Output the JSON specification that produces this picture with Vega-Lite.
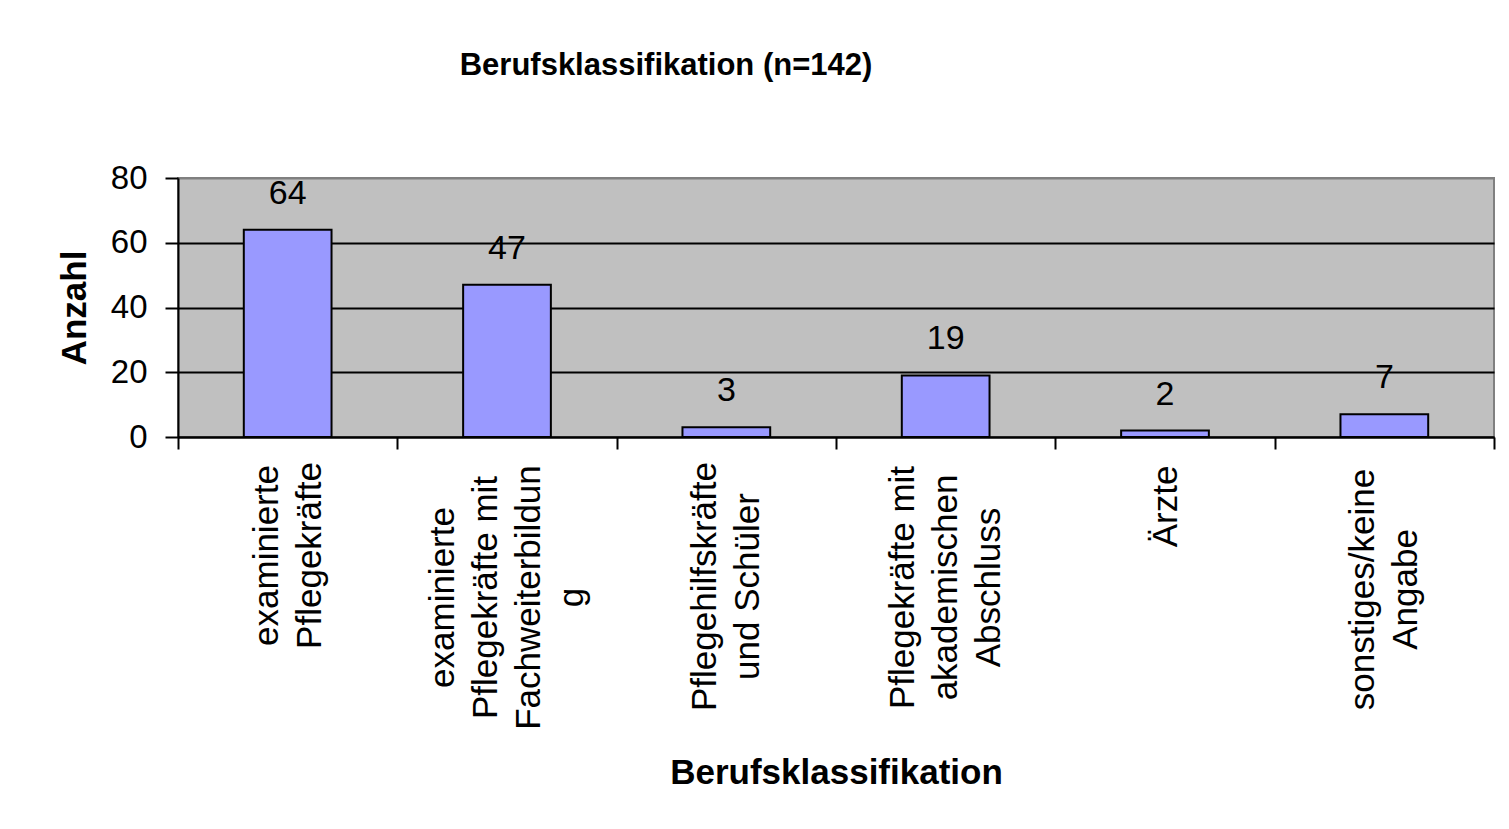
{
  "$schema": "https://vega.github.io/schema/vega-lite/v6.json",
  "width": 1316,
  "height": 259,
  "autosize": {"type": "none"},
  "padding": {"left": 178, "top": 178, "right": 15, "bottom": 392},
  "background": "white",
  "title": {
    "text": "Berufsklassifikation (n=142)",
    "fontSize": 31,
    "fontWeight": "bold",
    "font": "Liberation Sans",
    "color": "black",
    "anchor": "middle",
    "frame": "group",
    "dx": -170,
    "offset": 80
  },
  "data": {
    "values": [
      {"Berufsklassifikation": "examinierte\nPflegekräfte", "Anzahl": 64},
      {"Berufsklassifikation": "examinierte\nPflegekräfte mit\nFachweiterbildun\ng", "Anzahl": 47},
      {"Berufsklassifikation": "Pflegehilfskräfte\nund Schüler", "Anzahl": 3},
      {"Berufsklassifikation": "Pflegekräfte mit\nakademischen\nAbschluss", "Anzahl": 19},
      {"Berufsklassifikation": "Ärzte", "Anzahl": 2},
      {"Berufsklassifikation": "sonstiges/keine\nAngabe", "Anzahl": 7}
    ]
  },
  "encoding": {
    "x": {
      "field": "Berufsklassifikation",
      "type": "nominal",
      "sort": null,
      "scale": {"paddingInner": 0, "paddingOuter": 0},
      "axis": {
        "title": "Berufsklassifikation",
        "labelAngle": -90,
        "labelAlign": "center",
        "labelBaseline": "middle",
        "labelExpr": "split(datum.label, '\\n')",
        "labelLineHeight": 43,
        "labelFontSize": 35,
        "labelFont": "Liberation Sans",
        "labelColor": "black",
        "labelLimit": 2000,
        "labelOverlap": false,
        "labelFlush": false,
        "labelPadding": 57,
        "encoding": {
          "labels": {
            "dx": {"value": {"expr": "datum.index < 0.1 ? -49 : datum.index < 0.3 ? -91 : datum.index < 0.5 ? -80 : datum.index < 0.7 ? -81 : datum.index < 0.9 ? 0 : -83"}},
            "dy": {"value": {"expr": "datum.index < 0.1 ? -21.5 : datum.index < 0.3 ? -64.5 : datum.index < 0.5 ? -21.5 : datum.index < 0.7 ? -43 : datum.index < 0.9 ? 0 : -21.5"}}
          }
        },
        "tickBand": "extent",
        "tickSize": 12,
        "tickWidth": 2,
        "tickColor": "black",
        "domainColor": "black",
        "domainWidth": 2,
        "titleFontSize": 35,
        "titleFontWeight": "bold",
        "titleFont": "Liberation Sans",
        "titleColor": "black",
        "titleY": 346,
        "titleBaseline": "alphabetic"
      }
    },
    "y": {
      "field": "Anzahl",
      "type": "quantitative",
      "scale": {"domain": [0, 80], "nice": false},
      "axis": {
        "title": "Anzahl",
        "values": [0, 20, 40, 60, 80],
        "grid": true,
        "gridColor": {"condition": {"test": "datum.value == 80", "value": "#808080"}, "value": "black"},
        "gridWidth": 2,
        "domainColor": "black",
        "domainWidth": 2,
        "tickColor": "black",
        "tickWidth": 2,
        "tickSize": 13,
        "labelPadding": 18,
        "labelFontSize": 33,
        "labelFont": "Liberation Sans",
        "labelColor": "black",
        "titleFontSize": 35,
        "titleFont": "Liberation Sans",
        "titleFontWeight": "bold",
        "titleColor": "black",
        "titlePadding": 18
      }
    }
  },
  "layer": [
    {"mark": {"type": "bar", "width": {"band": 0.4}, "fill": "#9999FF", "stroke": "black", "strokeWidth": 2}},
    {
      "mark": {"type": "text", "baseline": "alphabetic", "dy": -26, "fontSize": 34, "font": "Liberation Sans", "color": "black"},
      "encoding": {"text": {"field": "Anzahl", "type": "quantitative"}}
    }
  ],
  "config": {"view": {"fill": "#C0C0C0", "stroke": "#808080", "strokeWidth": 2}}
}
